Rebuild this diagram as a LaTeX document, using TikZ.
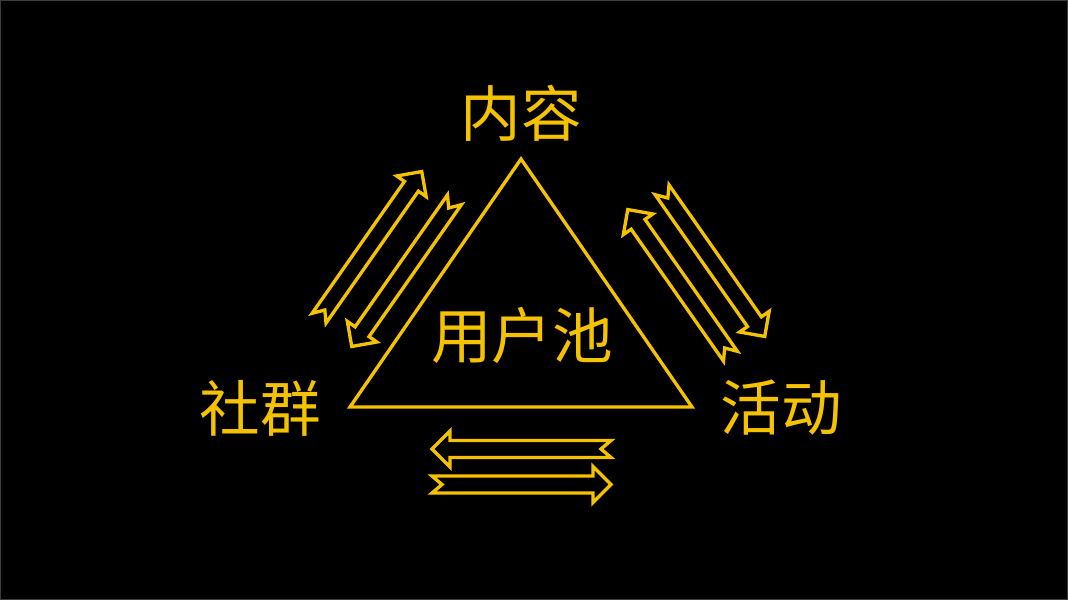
\documentclass[tikz,border=0pt]{standalone}
\usepackage{fontspec}
\setmainfont{Noto Sans CJK SC}
\usetikzlibrary{positioning}
\definecolor{gold}{RGB}{245,194,0}
\definecolor{frame}{RGB}{60,60,60}

\tikzset{
  cjktext/.style={text=gold, inner sep=0pt, font=\fontsize{34.5}{40}\selectfont},
  notcharrow/.pic={
    \draw[gold, line width=1.9pt, line join=miter]
      (1,8.5) -- (162,8.5) -- (162,18) -- (180,0) -- (162,-18) -- (162,-8.5) -- (1,-8.5) -- (11,0) -- cycle;
  }
}

\begin{document}
\begin{tikzpicture}[x=0.02cm, y=0.02cm]
\useasboundingbox (0,0) rectangle (1068,600);
\fill[black] (0,0) rectangle (1068,600);
\draw[frame, line width=0.8pt] (0.5,0.5) rectangle (1067.5,599.5);

\coordinate (top) at (521,441);
\coordinate (left) at (350,193);
\coordinate (right) at (692,193);
\draw[gold, line width=1.9pt, line join=miter] (top) -- (right) -- (left) -- cycle;

\node[cjktext] (content) at (521,487) {内容};
\node[cjktext] (pool) at (522,265) {用户池};
\node[cjktext] (group) at (260,192) {社群};
\node[cjktext] (event) at (781,192) {活动};

\coordinate (l1) at (318.5,281);
\coordinate (l2) at (455,401);
\coordinate (r1) at (731,243);
\coordinate (r2) at (661.5,411);
\coordinate (b1) at (612,151);
\coordinate (b2) at (431,115.5);

\pic[rotate=55] at (l1) {notcharrow};
\pic[rotate=235] at (l2) {notcharrow};
\pic[rotate=125] at (r1) {notcharrow};
\pic[rotate=-55] at (r2) {notcharrow};
\pic[rotate=180] at (b1) {notcharrow};
\pic at (b2) {notcharrow};
\end{tikzpicture}
\end{document}
